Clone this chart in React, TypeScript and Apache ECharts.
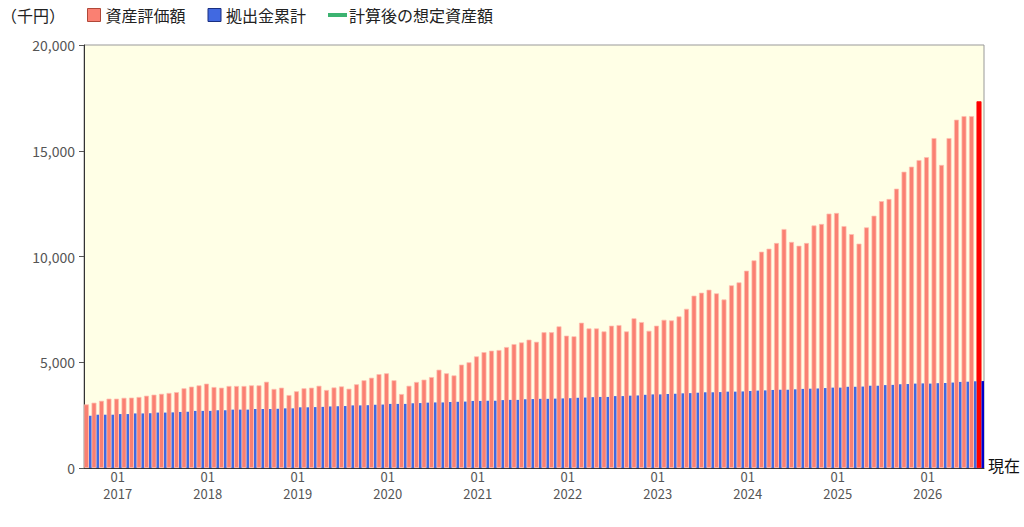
import React, { useEffect, useRef } from "react";
import * as echarts from "echarts";

const START_YEAR = 2016;
const START_MONTH = 9;
const MONTH_COUNT = 120;

const categories: string[] = [];
for (let i = 0; i < MONTH_COUNT; i++) {
  const m0 = START_MONTH - 1 + i;
  const y = START_YEAR + Math.floor(m0 / 12);
  const m = (m0 % 12) + 1;
  categories.push(`${y}-${m < 10 ? "0" + m : m}`);
}

const assetValues: number[] = [
  3010, 3090, 3180, 3280, 3280, 3320, 3330, 3360, 3420, 3470,
  3510, 3550, 3590, 3770, 3850, 3910, 3990, 3830, 3800, 3880,
  3880, 3880, 3910, 3910, 4080, 3740, 3800, 3450, 3630, 3770,
  3800, 3890, 3690, 3810, 3860, 3750, 3960, 4150, 4270, 4440,
  4480, 4150, 3500, 3890, 4070, 4180, 4300, 4650, 4480, 4380,
  4890, 5000, 5280, 5480, 5550, 5580, 5720, 5860, 5940, 6070,
  5970, 6420, 6420, 6700, 6260, 6230, 6870, 6600, 6600, 6460,
  6730, 6760, 6460, 7080, 6900, 6490, 6730, 7010, 6980, 7170,
  7530, 8150, 8290, 8430, 8260, 7970, 8640, 8780, 9330, 9820,
  10230, 10370, 10640, 11300, 10690, 10510, 10640, 11470, 11540, 12030,
  12060, 11440, 11060, 10610, 11380, 11930, 12620, 12720, 13210, 14010,
  14250, 14560, 14700, 15600, 14330, 15600, 16470, 16640, 16640, 17340,
];

const contributionValues: number[] = [
  2470, 2520, 2520, 2520, 2550, 2550, 2580, 2580, 2590, 2620,
  2620, 2630, 2650, 2660, 2700, 2700, 2700, 2730, 2730, 2760,
  2760, 2760, 2790, 2790, 2790, 2800, 2820, 2820, 2870, 2870,
  2880, 2890, 2910, 2920, 2930, 2960, 2960, 2970, 2990, 3000,
  3030, 3030, 3030, 3060, 3070, 3090, 3100, 3100, 3120, 3130,
  3140, 3170, 3170, 3180, 3180, 3210, 3220, 3220, 3250, 3260,
  3270, 3270, 3280, 3290, 3300, 3320, 3330, 3350, 3360, 3360,
  3400, 3400, 3420, 3430, 3460, 3480, 3480, 3500, 3510, 3530,
  3540, 3560, 3580, 3580, 3590, 3610, 3610, 3620, 3640, 3660,
  3670, 3690, 3700, 3700, 3720, 3740, 3750, 3760, 3780, 3800,
  3800, 3840, 3840, 3850, 3890, 3890, 3920, 3930, 3960, 3970,
  3990, 4000, 3990, 4010, 4020, 4040, 4070, 4080, 4100, 4110,
];

const projectedValues: (number | null)[] = [];

const yTicks = [0, 5000, 10000, 15000, 20000];

const FONT = "'Noto Sans CJK JP', 'Noto Sans', sans-serif";

export default function App() {
  const ref = useRef<HTMLDivElement>(null);

  useEffect(() => {
    document.body.style.margin = "0";
    if (!ref.current) return;
    const chart = echarts.init(ref.current, undefined, { renderer: "svg" });
    const last = categories.length - 1;
    const isJan = (i: number) => categories[i].endsWith("-01");

    chart.setOption({
      animation: false,
      textStyle: { fontFamily: FONT },
      title: {
        text: "（千円）",
        left: -4,
        top: 2,
        textStyle: { fontSize: 16, fontWeight: "normal", color: "#222", fontFamily: FONT },
      },
      legend: [
        {
          left: 82,
          top: 2,
          itemWidth: 13,
          itemHeight: 13,
          itemGap: 22,
          textStyle: { fontSize: 16, color: "#222", fontFamily: FONT },
          data: [
            { name: "資産評価額", icon: "rect", itemStyle: { color: "#fa8072", borderColor: "#b04838", borderWidth: 1 } },
            { name: "拠出金累計", icon: "rect", itemStyle: { color: "#4169e1", borderColor: "#1a2f80", borderWidth: 1 } },
          ],
        },
        {
          left: 323,
          top: 2,
          itemWidth: 19,
          itemHeight: 4,
          textStyle: { fontSize: 16, color: "#222", fontFamily: FONT, padding: [0, 0, 0, -3] },
          data: [{ name: "計算後の想定資産額", icon: "rect", itemStyle: { color: "#3cb371", borderWidth: 0 } }],
        },
      ],
      grid: {
        left: 84,
        right: 40,
        top: 45,
        bottom: 59,
        show: true,
        backgroundColor: "#ffffe6",
        borderColor: "#999",
        borderWidth: 1,
      },
      xAxis: {
        type: "category",
        data: categories,
        boundaryGap: true,
        axisLine: { lineStyle: { color: "#333", width: 1 } },
        axisTick: {
          alignWithLabel: true,
          length: 4,
          interval: (i: number) => isJan(i),
          lineStyle: { color: "#555" },
        },
        axisLabel: {
          interval: (i: number) => isJan(i),
          formatter: (v: string) => `${v.slice(5)}\n${v.slice(0, 4)}`,
          color: "#555",
          fontSize: 13,
          lineHeight: 17,
          margin: 0,
          fontFamily: FONT,
        },
        splitLine: { show: false },
      },
      yAxis: {
        type: "value",
        min: yTicks[0],
        max: yTicks[yTicks.length - 1],
        interval: 5000,
        axisLine: { show: true, lineStyle: { color: "#333", width: 1 } },
        axisTick: { show: true, length: 5, lineStyle: { color: "#555" } },
        axisLabel: {
          color: "#555",
          fontSize: 14,
          margin: 9,
          fontFamily: FONT,
          formatter: (v: number) => v.toLocaleString("en-US"),
        },
        splitLine: { show: false },
      },
      series: [
        {
          name: "資産評価額",
          type: "bar",
          barWidth: 5,
          barGap: "0%",
          itemStyle: { color: "#fa8072", borderColor: "rgba(255,190,175,0.9)", borderWidth: 0.8 },
          data: assetValues.map((v, i) =>
            i === last ? { value: v, itemStyle: { color: "#ff0000", borderColor: "#ff0000" } } : v
          ),
        },
        {
          name: "拠出金累計",
          type: "bar",
          barWidth: 2.5,
          barGap: "0%",
          itemStyle: { color: "#4169e1" },
          data: contributionValues.map((v, i) =>
            i === last ? { value: v, itemStyle: { color: "#0000cd" } } : v
          ),
        },
        {
          name: "計算後の想定資産額",
          type: "line",
          symbol: "none",
          itemStyle: { color: "#3cb371" },
          lineStyle: { color: "#3cb371", width: 3 },
          data: projectedValues,
        },
      ],
      graphic: [
        {
          type: "text",
          left: 988,
          top: 457,
          style: { text: "現在", fontSize: 16, fill: "#111", fontFamily: FONT },
        },
      ],
    });

    return () => chart.dispose();
  }, []);

  return <div ref={ref} style={{ width: 1024, height: 527 }} />;
}
